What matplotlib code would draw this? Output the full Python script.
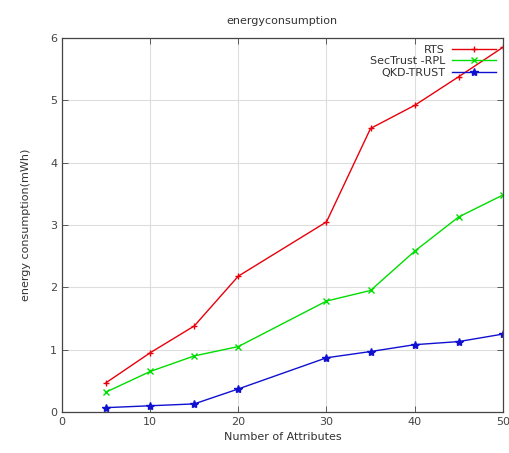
import matplotlib
matplotlib.use("Agg")
import matplotlib.pyplot as plt

x = [5, 10, 15, 20, 30, 35, 40, 45, 50]
rts = [0.47, 0.95, 1.38, 2.18, 3.05, 4.55, 4.92, 5.38, 5.85]
sectrust = [0.32, 0.65, 0.90, 1.05, 1.78, 1.95, 2.58, 3.13, 3.48]
qkd = [0.07, 0.10, 0.13, 0.37, 0.87, 0.97, 1.08, 1.13, 1.25]
xticks = [0, 10, 20, 30, 40, 50]
yticks = [0, 1, 2, 3, 4, 5, 6]

fig = plt.figure(figsize=(5.09, 4.53), dpi=100)
ax = fig.add_axes([0.1218, 0.0905, 0.866, 0.8255])

ax.plot(x, rts, color="#e8000b", lw=1.0, marker="+", ms=5, label="RTS")
ax.plot(x, sectrust, color="#00dd00", lw=1.0, marker="x", ms=4, label="SecTrust -RPL")
ax.plot(x, qkd, color="#1010d0", lw=1.0, marker="*", ms=6, label="QKD-TRUST")

ax.set_xlim(0, 50)
ax.set_ylim(0, 6)
ax.set_xticks(xticks)
ax.set_yticks(yticks)
ax.tick_params(direction="in", top=True, right=True, labelsize=8, colors="#444444", length=4, width=0.6)
ax.grid(True, color="#dddddd", ls="-", lw=0.8)
ax.set_axisbelow(True)
for s in ax.spines.values():
    s.set_linewidth(0.9)
    s.set_color("#444444")

ax.set_title("energyconsumption", fontsize=8, color="#333333", pad=10)
ax.set_xlabel("Number of Attributes", fontsize=8, color="#333333", labelpad=4)
ax.set_ylabel("energy consumption(mWh)", fontsize=8, color="#333333", labelpad=14)

leg = ax.legend(loc="upper right", frameon=False, markerfirst=False, fontsize=8,
                handlelength=4, labelspacing=0.15, borderaxespad=0.2, handletextpad=0.6)
for t in leg.get_texts():
    t.set_color("#333333")

fig.savefig("out.png", dpi=100)
